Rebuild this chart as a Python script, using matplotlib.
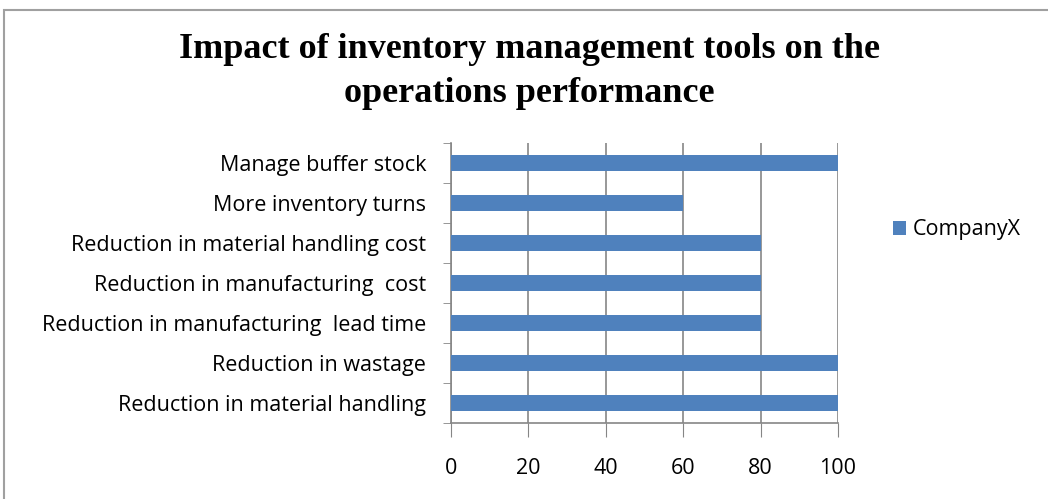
import matplotlib.pyplot as plt
from matplotlib.patches import Rectangle

categories = [
    "Reduction in material handling",
    "Reduction in wastage",
    "Reduction in manufacturing  lead time",
    "Reduction in manufacturing  cost",
    "Reduction in material handling cost",
    "More inventory turns",
    "Manage buffer stock",
]
values = [100, 100, 80, 80, 80, 60, 100]
series_name = "CompanyX"
xticks = [0, 20, 40, 60, 80, 100]

bar_color = "#4F81BD"
grid_color = "#868686"
label_font = "Open Sans"
fs = 15.5

fig = plt.figure(figsize=(10.48, 4.99), dpi=100)
W, H = 1048, 499

# chart area border (Excel style)
fig.patches.append(Rectangle((4 / W, -0.2), 1.2, 1.2 - 10 / H, transform=fig.transFigure,
                             fill=False, edgecolor="#a0a0a0", linewidth=1.5))

ax = fig.add_axes([451 / W, 1 - 423 / H, (838 - 451) / W, (423 - 143) / H])

y = range(len(categories))
ax.barh(y, values, height=0.38, color=bar_color, zorder=3)

ax.set_xlim(0, 100)
ax.set_ylim(-0.5, len(categories) - 0.5)
ax.set_xticks(xticks)
ax.set_xticklabels([str(t) for t in xticks], fontsize=fs, family=label_font)
ax.set_yticks(list(y))
ax.set_yticklabels(categories, fontsize=fs, family=label_font)
ax.tick_params(axis="y", length=0, pad=18)
ax.tick_params(axis="x", length=10, color=grid_color, pad=15)

# category boundary ticks on y axis
ax.set_yticks([i - 0.5 for i in range(len(categories) + 1)], minor=True)
ax.tick_params(axis="y", which="minor", length=6, color=grid_color)

ax.grid(axis="x", color=grid_color, linewidth=1.2, zorder=0)
for side in ["top", "right"]:
    ax.spines[side].set_visible(False)
for side in ["left", "bottom"]:
    ax.spines[side].set_color(grid_color)
    ax.spines[side].set_linewidth(1.2)

ax.legend([series_name], loc="center left", bbox_to_anchor=(874 / W, 1 - 230 / H),
          bbox_transform=fig.transFigure, frameon=False,
          handlelength=0.6, handleheight=0.6, handletextpad=0.3,
          prop={"family": label_font, "size": fs})

fig.text(0.505, 1 - 50 / H, "Impact of inventory management tools on the",
         ha="center", va="center", fontsize=26, fontweight="bold", family="Liberation Serif")
fig.text(0.505, 1 - 93 / H, "operations performance",
         ha="center", va="center", fontsize=26, fontweight="bold", family="Liberation Serif")

fig.savefig("out.png", dpi=100)
